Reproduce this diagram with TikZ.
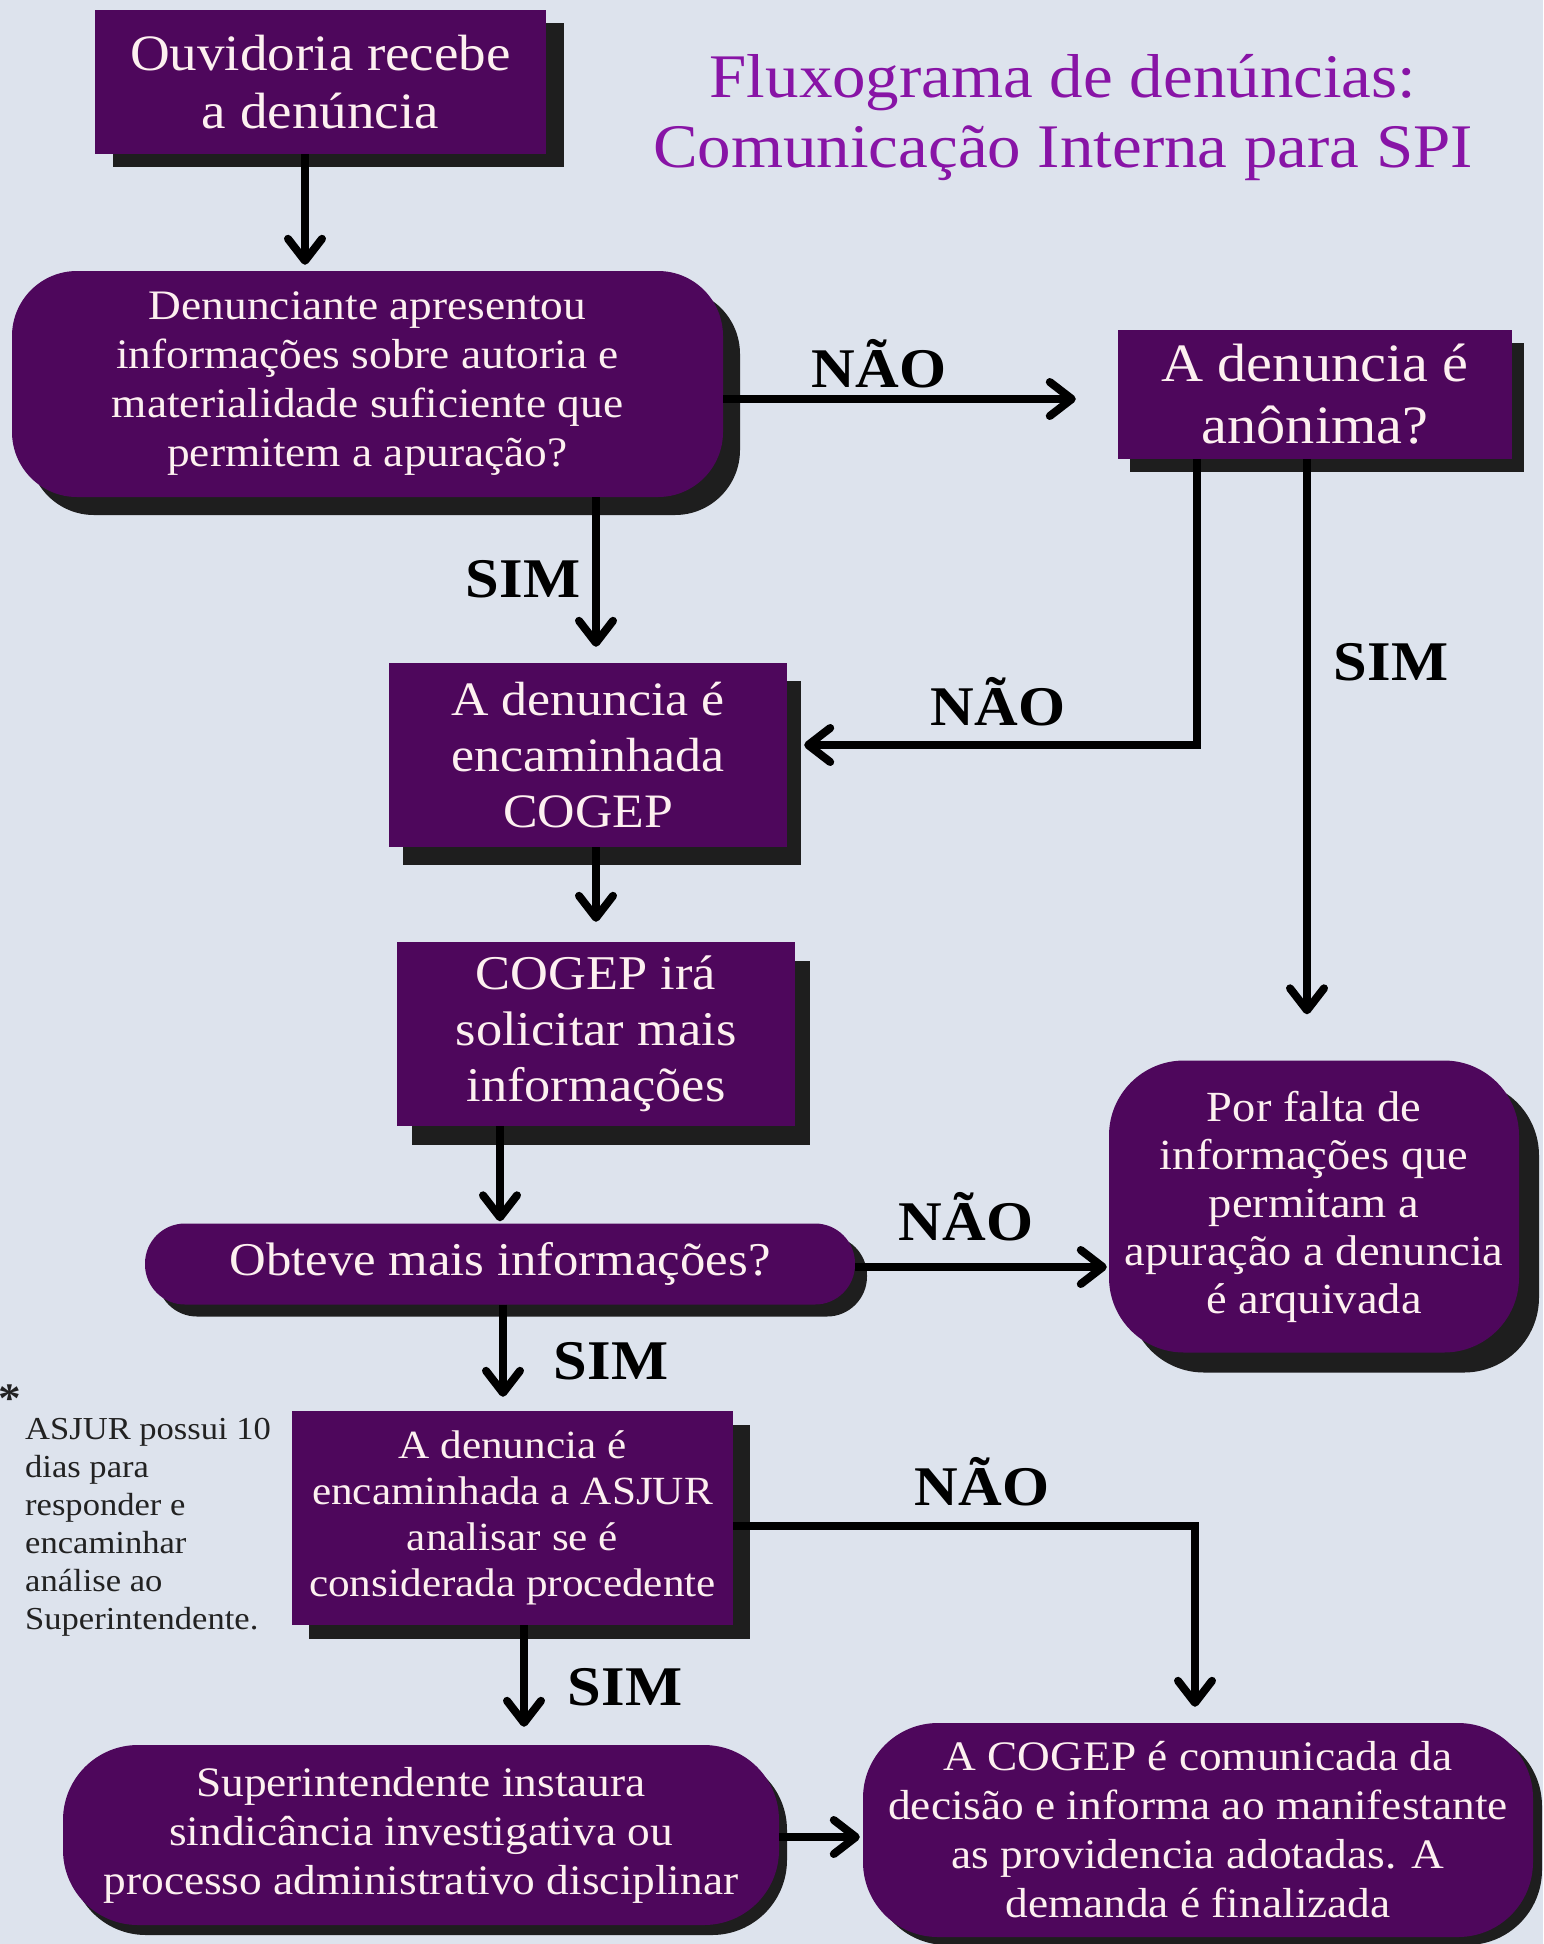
\documentclass[tikz,border=0pt]{standalone}
\usepackage{fontspec}
\setmainfont{Liberation Serif}[FakeStretch=1.08]
\usepackage{xcolor}
\usetikzlibrary{positioning, arrows.meta, shadows}

\definecolor{bgblue}{RGB}{221,227,237}
\definecolor{boxpurple}{RGB}{78,7,92}
\definecolor{shadowgray}{RGB}{30,30,30}
\definecolor{boxtext}{RGB}{253,240,240}
\definecolor{titlepurple}{RGB}{136,20,166}
\definecolor{notegray}{RGB}{34,34,34}

\begin{document}
\begin{tikzpicture}[
            x=1pt, y=-1pt,
            box/.style={rectangle, fill=boxpurple, text=boxtext, align=center, inner sep=0pt},
            roundbox/.style={box, rounded corners=#1},
            dsh/.style={fill=shadowgray, opacity=1},
            lbl/.style={anchor=base, inner sep=0pt, font=\fontsize{56}{60}\selectfont\bfseries},
            arr/.style={line width=8pt, -{Straight Barb[length=22pt, width=34pt, round]}},
        ]
            \fill[bgblue] (0,0) rectangle (1543,1944);
            \useasboundingbox (0,0) rectangle (1543,1944);

            \node[text=titlepurple, align=center, inner sep=0pt, font=\fontsize{62}{70}\selectfont] (titulo) at (1063,118) {Fluxograma de denúncias:\\Comunicação Interna para SPI};

            \node[box, drop shadow={dsh, shadow xshift=18pt, shadow yshift=-13pt}, minimum width=451pt, minimum height=144pt, font=\fontsize{51}{58}\selectfont] (ouv) at (320.5,82) {Ouvidoria recebe\\a denúncia};
            \node[roundbox=65pt, drop shadow={dsh, shadow xshift=17pt, shadow yshift=-18pt}, minimum width=711pt, minimum height=226pt, font=\fontsize{42}{49}\selectfont] (autoria) at (367.5,384) {Denunciante apresentou\\informações sobre autoria e\\materialidade suficiente que\\permitem a apuração?};
            \node[box, drop shadow={dsh, shadow xshift=12pt, shadow yshift=-13pt}, minimum width=394pt, minimum height=129pt, font=\fontsize{54}{62}\selectfont] (anonima) at (1315,394.5) {A denuncia é\\anônima?};
            \node[box, drop shadow={dsh, shadow xshift=14pt, shadow yshift=-18pt}, minimum width=398pt, minimum height=184pt, font=\fontsize{48}{56}\selectfont] (cogep) at (588,755) {A denuncia é\\encaminhada\\COGEP};
            \node[box, drop shadow={dsh, shadow xshift=15pt, shadow yshift=-19pt}, minimum width=398pt, minimum height=184pt, font=\fontsize{48.5}{56}\selectfont] (solicita) at (596,1034) {COGEP irá\\solicitar mais\\informações};
            \node[roundbox=40pt, drop shadow={dsh, shadow xshift=12pt, shadow yshift=-12pt}, minimum width=710pt, minimum height=81pt, font=\fontsize{47}{54}\selectfont] (obteve) at (500,1264) {Obteve mais informações?};
            \node[roundbox=75pt, drop shadow={dsh, shadow xshift=20pt, shadow yshift=-20pt}, minimum width=410pt, minimum height=292pt, font=\fontsize{43}{48}\selectfont] (arquiva) at (1314,1206.5) {Por falta de\\informações que\\permitam a\\apuração a denuncia\\é arquivada};
            \node[box, drop shadow={dsh, shadow xshift=17pt, shadow yshift=-14pt}, minimum width=441pt, minimum height=214pt, font=\fontsize{40}{46}\selectfont] (asjur) at (512.5,1518) {A denuncia é\\encaminhada a ASJUR\\analisar se é\\considerada procedente};
            \node[roundbox=75pt, drop shadow={dsh, shadow xshift=8pt, shadow yshift=-10pt}, minimum width=716pt, minimum height=180pt, font=\fontsize{42}{49}\selectfont] (sindic) at (421,1835) {Superintendente instaura\\sindicância investigativa ou\\processo administrativo disciplinar};
            \node[roundbox=75pt, drop shadow={dsh, shadow xshift=9pt, shadow yshift=-8pt}, minimum width=670pt, minimum height=214pt, font=\fontsize{42}{49}\selectfont] (final) at (1198,1830) {A COGEP é comunicada da\\decisão e informa ao manifestante\\as providencia adotadas. A\\demanda é finalizada};

            \node[anchor=north, text=notegray, inner sep=0pt, font=\fontsize{42}{42}\selectfont\bfseries] (asterisco) at (10,1385) {*};
            \node[anchor=north west, align=left, text=notegray, inner sep=0pt, font=\fontsize{32}{38}\selectfont] (nota) at (25,1418) {ASJUR possui 10\\dias para\\responder e\\encaminhar\\análise ao\\Superintendente.};

            \draw[arr, shorten >=6pt] ([xshift=-15.5pt]ouv.south) -- ([xshift=-15.5pt]ouv.south |- autoria.north);
            \draw[arr, shorten >=42pt] ([yshift=-15pt]autoria.east) -- ([yshift=-15pt]autoria.east -| anonima.west);
            \draw[arr] ([xshift=-118pt]anonima.south) |- ([xshift=17pt, yshift=10pt]cogep.east);
            \draw[arr, shorten >=46pt] ([xshift=-8pt]anonima.south) -- ([xshift=-8pt]anonima.south |- arquiva.north);
            \draw[arr, shorten >=16pt] ([xshift=8pt]cogep.north |- autoria.south) -- ([xshift=8pt]cogep.north);
            \draw[arr, shorten >=20pt] ([xshift=8pt]cogep.south) -- (solicita.north);
            \draw[arr, shorten >=2pt] (solicita.south -| obteve.north) -- (obteve.north);
            \draw[arr, shorten >=2pt] ([yshift=-3pt]obteve.east) -- ([yshift=-3pt]obteve.east -| arquiva.west);
            \draw[arr, shorten >=14pt] ([xshift=-9.5pt]asjur.north |- obteve.south) -- ([xshift=-9.5pt]asjur.north);
            \draw[arr, shorten >=18pt] ([xshift=11.5pt]asjur.south) -- ([xshift=11.5pt]asjur.south |- sindic.north);
            \draw[arr, shorten >=16pt] ([yshift=-8pt]asjur.east) -| ([xshift=-3pt]final.north);
            \draw[arr, shorten >=3pt] ([yshift=-2pt]sindic.east) -- ([yshift=-2pt]sindic.east -| final.west);

            \node[lbl] (nao1) at (879,387) {NÃO};
            \node[lbl] (sim1) at (523,597) {SIM};
            \node[lbl] (nao2) at (998,725) {NÃO};
            \node[lbl] (sim2) at (1391,680) {SIM};
            \node[lbl] (nao3) at (966,1240) {NÃO};
            \node[lbl] (sim3) at (611,1379) {SIM};
            \node[lbl] (nao4) at (982,1505) {NÃO};
            \node[lbl] (sim4) at (625,1705) {SIM};
        \end{tikzpicture}
\end{document}
